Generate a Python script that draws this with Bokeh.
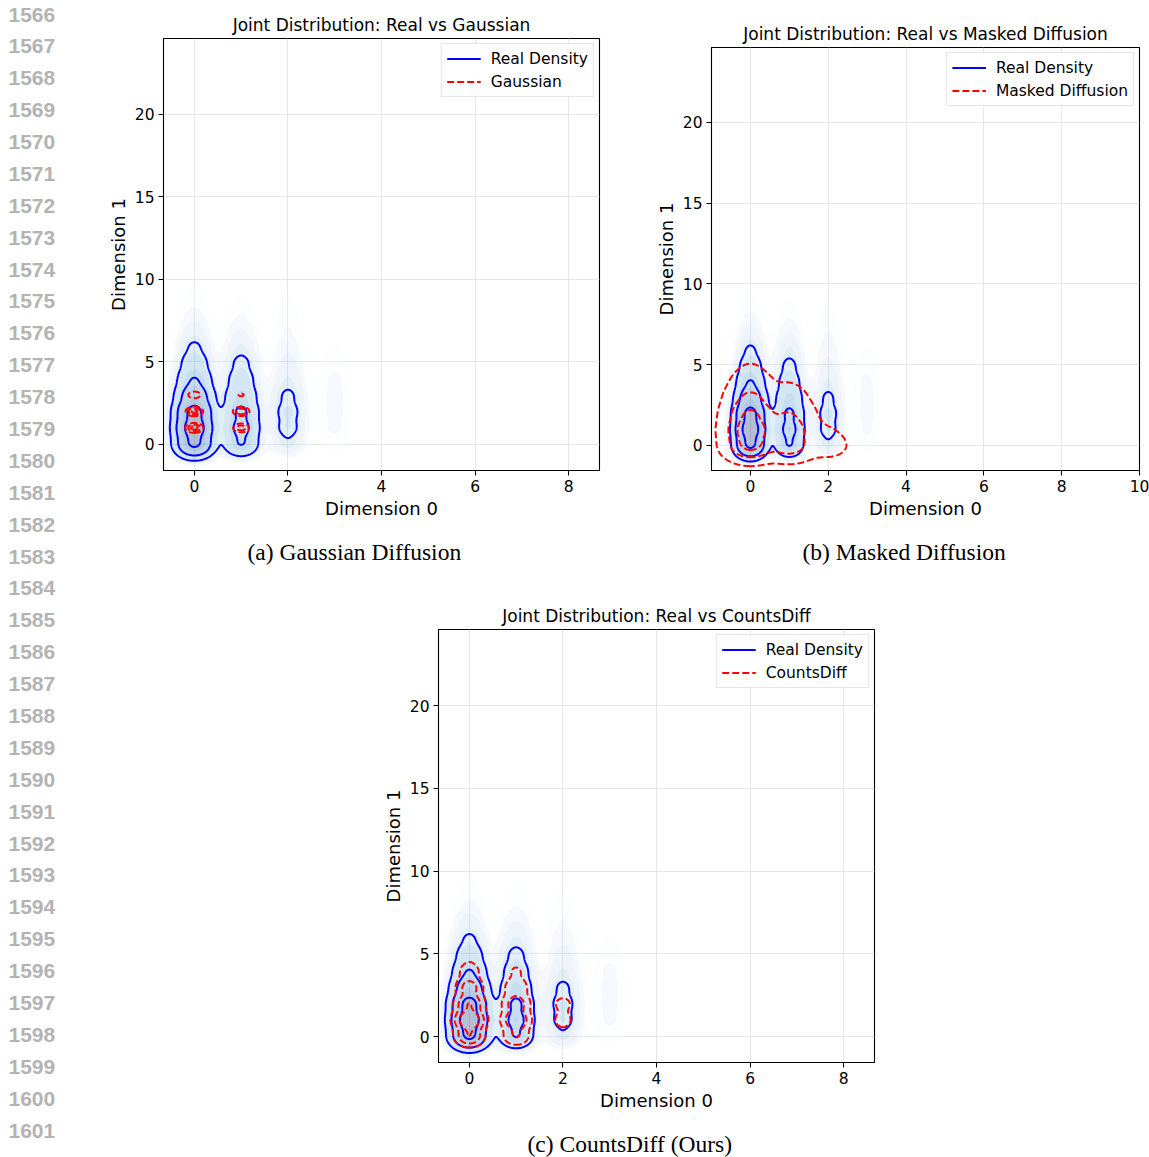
import numpy as np
from bokeh.plotting import figure
from bokeh.models import Range1d, FixedTicker, Legend, LegendItem, Title, Spacer
from bokeh.layouts import row, column
from bokeh.embed import file_html
from bokeh.resources import INLINE
from bokeh.core.properties import value

# ---------------- data: sample counts per (dimension 0, dimension 1) ----------------
# Real data: counts indexed by dimension-1 value (0, 1, 2, ...) for each dimension-0 value
real_d0_0 = [750, 1000, 800, 410, 210, 115, 62, 28, 12, 6, 3, 1]
real_d0_1 = [228, 285, 245, 162, 108, 71, 40, 19, 9, 4, 2, 1]
real_d0_2 = [48, 82, 88, 66, 40, 26, 16, 10, 6, 4, 2]
real_d0_3 = [7, 12, 14, 14, 12, 8, 4, 2]

# Gaussian diffusion samples
gauss_d0_0 = [0, 100, 90, 28]
gauss_d0_1 = [0, 60, 72, 12]

# Masked diffusion samples
masked_d0_0 = [150, 190, 120, 50, 15, 4, 1]
masked_d0_1 = [85, 80, 40, 12, 3, 1]
masked_d0_2 = [15, 4, 1]

# CountsDiff samples
counts_d0_0 = [550, 1000, 550, 380, 200, 100, 45, 20, 8]
counts_d0_1 = [300, 548, 410, 245, 137, 66, 27, 11]
counts_d0_2 = [106, 177, 168, 53, 14, 4]

line_numbers = ["1566", "1567", "1568", "1569", "1570", "1571", "1572", "1573", "1574",
                "1575", "1576", "1577", "1578", "1579", "1580", "1581", "1582", "1583",
                "1584", "1585", "1586", "1587", "1588", "1589", "1590", "1591", "1592",
                "1593", "1594", "1595", "1596", "1597", "1598", "1599", "1600", "1601"]

x_ticks_a = [0, 2, 4, 6, 8]
x_ticks_b = [0, 2, 4, 6, 8, 10]
y_ticks = [0, 5, 10, 15, 20]

# ---------------- KDE on a grid ----------------
def kde_grid(columns, hx, hy, xs, ys):
    z = np.zeros((len(ys), len(xs)))
    total = 0.0
    for i, counts in enumerate(columns):
        kx = np.exp(-0.5 * ((xs - i) / hx) ** 2) / hx
        ky = np.zeros_like(ys)
        for j, c in enumerate(counts):
            ky += c * np.exp(-0.5 * ((ys - j) / hy) ** 2) / hy
            total += c
        z += np.outer(ky, kx)
    return z / (total * 2 * np.pi)

xs = np.linspace(-1.0, 4.5, 441)
ys = np.linspace(-1.6, 13.0, 585)

real_z = kde_grid([real_d0_0, real_d0_1, real_d0_2, real_d0_3], 0.22, 0.45, xs, ys)
gauss_z = kde_grid([gauss_d0_0, gauss_d0_1], 0.09, 0.14, xs, ys)
masked_z = kde_grid([masked_d0_0, masked_d0_1, masked_d0_2], 0.33, 0.5, xs, ys)
counts_z = kde_grid([counts_d0_0, counts_d0_1, counts_d0_2], 0.2, 0.4, xs, ys)

fill_fracs = [0.004, 0.01, 0.02, 0.04, 0.08, 0.15, 0.28, 0.45, 0.64, 1.001]
fill_colors = ['#f7fbff', '#deebf7', '#c6dbef', '#9ecae1', '#6baed6', '#4292c6',
               '#2171b5', '#08519c', '#08306b']
real_fracs = [0.058, 0.22, 0.66]
gauss_fracs = [0.1, 0.35, 0.75]
masked_fracs = [0.025, 0.23, 0.6]
counts_fracs = [0.13, 0.3, 0.58]

AX_FONT = "DejaVu Sans"


def make_panel(title, caption, cap_offset, xr, yr, xticks, fw, fh, mbl, mbr, mbt, mbb,
               gen_z, gen_fracs, gen_label):
    p = figure(frame_width=fw, frame_height=fh, x_range=Range1d(*xr), y_range=Range1d(*yr),
               toolbar_location=None, output_backend="svg",
               min_border_left=mbl, min_border_right=mbr, min_border_top=mbt, min_border_bottom=mbb)
    p.background_fill_color = "white"
    p.border_fill_color = "white"
    p.outline_line_color = "black"
    p.outline_line_width = 1.1
    p.title.text = title
    p.title.align = "center"
    p.title.text_font = AX_FONT
    p.title.text_font_size = "17px"
    p.title.text_font_style = "normal"
    p.title.text_color = "black"
    p.title.standoff = 7

    p.xaxis.ticker = FixedTicker(ticks=xticks)
    p.yaxis.ticker = FixedTicker(ticks=y_ticks)
    for ax in (p.xaxis, p.yaxis):
        ax.major_tick_out = 5
        ax.major_tick_in = 0
        ax.minor_tick_line_color = None
        ax.major_label_text_font = AX_FONT
        ax.major_label_text_font_size = "15.5px"
        ax.major_label_text_color = "black"
        ax.major_label_standoff = 4
        ax.axis_label_text_font = AX_FONT
        ax.axis_label_text_font_size = "18px"
        ax.axis_label_text_font_style = "normal"
        ax.axis_label_text_color = "black"
        ax.axis_label_standoff = 3
        ax.axis_line_color = "black"
        ax.major_tick_line_color = "black"
    p.xaxis.axis_label = "Dimension 0"
    p.yaxis.axis_label = "Dimension 1"
    p.grid.grid_line_color = "#e6e6e6"
    p.grid.grid_line_width = 1

    zmax = real_z.max()
    p.contour(xs, ys, real_z, [f * zmax for f in fill_fracs], fill_color=fill_colors,
              fill_alpha=0.3, line_color=None)
    blue = p.contour(xs, ys, real_z, [f * zmax for f in real_fracs], line_color="blue",
                     line_width=2)
    gmax = gen_z.max()
    red = p.contour(xs, ys, gen_z, [f * gmax for f in gen_fracs], line_color="red",
                    line_width=2, line_dash="7 3")

    legend = Legend(items=[LegendItem(label="Real Density", renderers=[blue.line_renderer]),
                           LegendItem(label=gen_label, renderers=[red.line_renderer])],
                    location="top_right")
    legend.label_text_font = AX_FONT
    legend.label_text_font_size = "15.5px"
    legend.label_text_color = "black"
    legend.glyph_width = 34
    legend.glyph_height = 19
    legend.label_height = 19
    legend.spacing = 4
    legend.padding = 5
    legend.margin = 5
    legend.label_standoff = 10
    legend.border_line_color = "#cccccc"
    legend.border_line_width = 1
    legend.background_fill_alpha = 0.85
    p.add_layout(legend)

    cap = Title(text=caption, align="left", offset=cap_offset, text_font="Liberation Serif",
                text_font_size="23.5px", text_font_style="normal", text_color="black",
                standoff=31)
    p.add_layout(cap, "below")
    return p


pa = make_panel("Joint Distribution: Real vs Gaussian", "(a) Gaussian Diffusion", 84,
                (-0.66, 8.66), (-1.58, 24.6), x_ticks_a, 436, 432, 63, 30, 38, 110,
                gauss_z, gauss_fracs, "Gaussian")
pb = make_panel("Joint Distribution: Real vs Masked Diffusion", "(b) Masked Diffusion", 91,
                (-1.0, 10.0), (-1.55, 24.64), x_ticks_b, 428, 423, 82, 10, 38, 110,
                masked_z, masked_fracs, "Masked Diffusion")
pc = make_panel("Joint Distribution: Real vs CountsDiff", "(c) CountsDiff (Ours)", 89,
                (-0.66, 8.66), (-1.57, 24.6), x_ticks_a, 436, 433, 338, 275, 49, 95,
                counts_z, counts_fracs, "CountsDiff")

# line-number margin
ln = figure(width=100, height=1157, x_range=Range1d(0, 100), y_range=Range1d(1157, 0),
            toolbar_location=None, output_backend="svg", min_border=0,
            x_axis_location=None, y_axis_location=None)
ln.outline_line_color = None
ln.grid.visible = False
ln_y = [14 + 31.886 * i for i in range(len(line_numbers))]
ln.text(x=[8] * len(line_numbers), y=ln_y, text=line_numbers, text_font=value("Liberation Sans"),
        text_font_style="bold", text_font_size="21px", text_color="#b3b3b3",
        text_baseline="middle", text_align="left")

layout = row(ln, column(row(column(pa), column(Spacer(width=520, height=9), pb)), pc))
open("out.html", "w").write(file_html(layout, INLINE))
